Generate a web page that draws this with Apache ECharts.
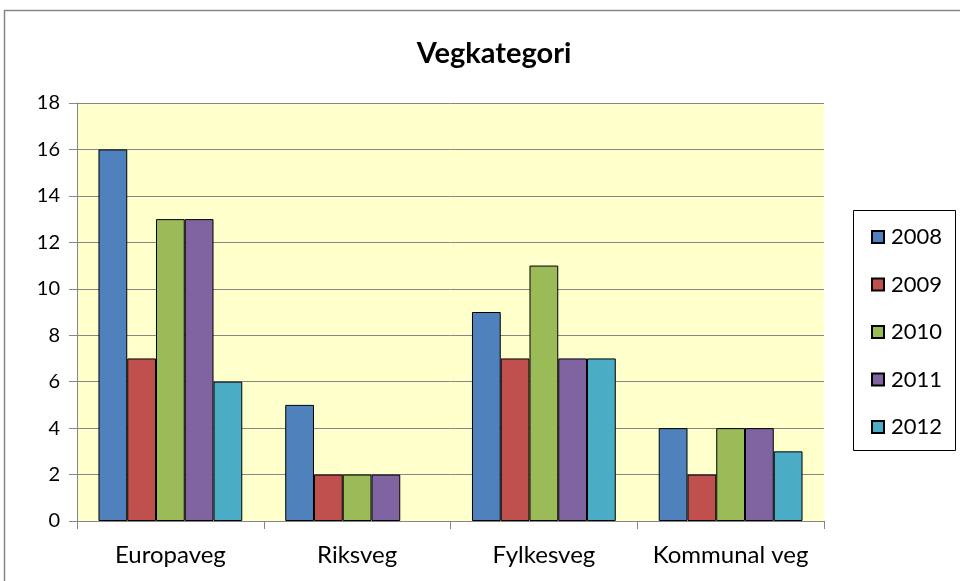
<!DOCTYPE html>
<html><head><meta charset="utf-8">
<script src="https://cdn.jsdelivr.net/npm/echarts@6/dist/echarts.min.js"></script>
<style>html,body{margin:0;padding:0;background:#fff}#c{width:960px;height:581px}</style>
</head><body><div id="c"></div>
<script>
const categories = ['Europaveg', 'Riksveg', 'Fylkesveg', 'Kommunal veg'];
const years = ['2008', '2009', '2010', '2011', '2012'];
const v2008 = [16, 5, 9, 4];
const v2009 = [7, 2, 7, 2];
const v2010 = [13, 2, 11, 4];
const v2011 = [13, 2, 7, 4];
const v2012 = [6, null, 7, 3];
const yTicks = [0, 2, 4, 6, 8, 10, 12, 14, 16, 18];

const values = [v2008, v2009, v2010, v2011, v2012];
const colors = ['#4F81BD', '#C0504D', '#9BBB59', '#8064A2', '#4BACC6'];
const font = 'Lato, "Open Sans", sans-serif';
const chart = echarts.init(document.getElementById('c'));
chart.setOption({
  animation: false,
  textStyle: { fontFamily: font },
  title: { text: 'Vegkategori', left: 489, top: 34, textAlign: 'center',
    textStyle: { fontSize: 29, fontWeight: 'bold', color: '#000', fontFamily: font } },
  graphic: [
    { type: 'polyline', shape: { points: [[4.5, 581], [4.5, 10.5], [960, 10.5]] },
      style: { stroke: '#868686', lineWidth: 1.5, fill: null } },
    { type: 'rect', shape: { x: 853.5, y: 210.5, width: 102, height: 240 },
      style: { stroke: '#000', lineWidth: 1, fill: '#fff' }, z: 0 }
  ],
  legend: {
    orient: 'vertical', left: 866, top: 221, itemGap: 25.5, itemWidth: 12, itemHeight: 12,
    icon: 'rect',
    textStyle: { fontSize: 22, lineHeight: 22, color: '#000', fontFamily: font, padding: [0, 0, 0, 2] },
    data: years
  },
  grid: { left: 77, right: 136, top: 103, bottom: 60, show: true,
    backgroundColor: '#FFFFCC', borderWidth: 0 },
  xAxis: {
    type: 'category', data: categories,
    axisLine: { lineStyle: { color: '#868686' } },
    axisTick: { show: true, length: 8, lineStyle: { color: '#868686' } },
    axisLabel: { interval: 0, fontSize: 24, color: '#000', margin: 22, fontFamily: font }
  },
  yAxis: {
    type: 'value', min: 0, max: 18, interval: 2,
    axisLine: { show: true, lineStyle: { color: '#868686' } },
    axisTick: { show: true, length: 8, inside: false, lineStyle: { color: '#868686' } },
    axisLabel: { fontSize: 20, color: '#000', margin: 17, fontFamily: font,
      formatter: v => yTicks.includes(v) ? String(v) : '' },
    splitLine: { lineStyle: { color: '#868686' } }
  },
  series: years.map((y, i) => ({
    name: y, type: 'bar', data: values[i], barGap: '0%', barCategoryGap: '23%',
    itemStyle: { color: colors[i], borderColor: '#000', borderWidth: 1 }
  }))
});
</script></body></html>
